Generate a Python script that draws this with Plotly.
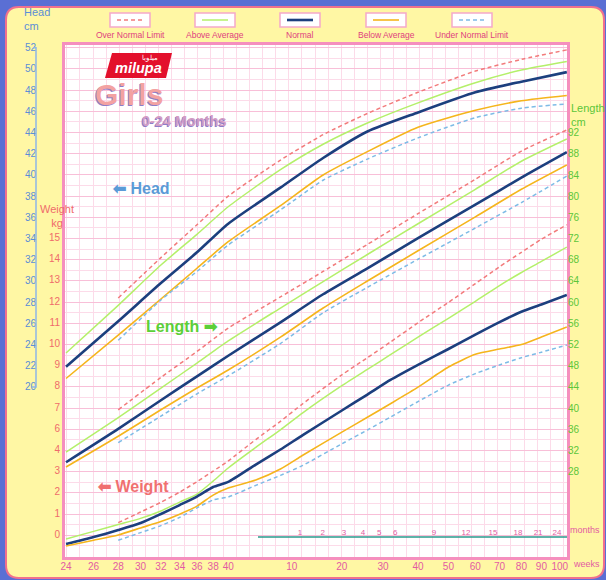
import math
import plotly.graph_objects as go

W, H = 606, 580

# ages are postmenstrual weeks (24-40 = gestation, then 40 + weeks after birth)
head_weeks = [24, 28, 32, 36, 40, 48, 56, 66, 80, 100, 120, 144]
head_over = [None, 28.4, 32.2, 35.3, 38.0, 41.4, 43.8, 45.8, 47.8, 49.8, 50.9, 51.8]
head_above = [23.2, 27.7, 31.5, 34.4, 37.0, 40.5, 42.9, 44.9, 46.8, 48.7, 49.9, 50.7]
head_normal = [21.9, 26.2, 29.8, 32.7, 35.4, 38.8, 41.6, 44.1, 45.9, 47.8, 48.8, 49.7]
head_below = [20.8, 24.9, 28.3, 31.2, 33.7, 37.1, 40.0, 42.2, 44.5, 46.1, 47.0, 47.5]
head_under = [None, 24.4, 28.2, 30.9, 33.4, 36.7, 39.5, 41.5, 43.5, 45.4, 46.3, 46.7]

length_weeks = [24, 28, 32, 36, 40, 48, 56, 66, 80, 100, 120, 144]
length_over = [None, 39.7, 45.8, 50.7, 55.1, 61.0, 65.8, 70.9, 76.7, 83.2, 88.5, 92.5]
length_above = [31.7, 38.2, 43.8, 48.5, 52.7, 58.9, 63.9, 69.0, 74.8, 81.3, 86.6, 90.8]
length_normal = [29.8, 36.1, 41.5, 46.0, 49.9, 56.2, 61.5, 66.4, 72.1, 78.4, 83.5, 88.3]
length_below = [28.9, 34.7, 39.7, 43.8, 47.2, 53.4, 58.9, 64.0, 69.7, 76.1, 81.3, 85.9]
length_under = [None, 33.5, 38.5, 42.7, 46.1, 52.2, 58.0, 62.8, 68.1, 74.0, 78.8, 83.8]

weight_weeks = [24, 26, 28, 30, 32, 34, 36, 38, 40, 44, 48, 52, 60, 66, 72, 80, 90, 100, 110, 120, 130, 144]
weight_over = [None, None, 1.55, 2.05, 2.51, 2.99, 3.48, 3.98, 4.46, 5.47, 6.33, 7.16, 8.52, 9.33,
               10.07, 10.98, 11.94, 12.82, 13.62, 14.30, 14.92, 15.6]
weight_above = [0.78, 1.14, 1.46, 1.75, 2.10, 2.52, 2.90, 3.51, 4.13, 5.10, 5.93, 6.73, 8.01, 8.78,
                9.47, 10.30, 11.19, 11.99, 12.73, 13.35, 13.87, 14.55]
weight_normal = [0.54, 0.87, 1.20, 1.53, 1.96, 2.38, 2.78, 3.23, 3.47, 4.29, 5.00, 5.68, 6.84, 7.59,
                 8.28, 8.99, 9.74, 10.42, 11.01, 11.50, 11.84, 12.29]
weight_below = [0.45, 0.72, 0.97, 1.30, 1.60, 1.95, 2.33, 2.85, 3.18, 3.56, 4.08, 4.73, 5.82, 6.52,
                7.16, 7.94, 8.89, 9.49, 9.74, 9.95, 10.31, 10.78]
weight_under = [None, None, 0.72, 1.08, 1.41, 1.80, 2.25, 2.62, 2.76, 3.31, 3.78, 4.25, 5.27, 5.92,
                6.53, 7.26, 8.04, 8.58, 8.99, 9.33, 9.59, 9.93]

week_ticks = [24, 26, 28, 30, 32, 34, 36, 38, 40, 50, 60, 70, 80, 90, 100, 110, 120, 130, 140]
week_labels = ["24", "26", "28", "30", "32", "34", "36", "38", "40",
               "10", "20", "30", "40", "50", "60", "70", "80", "90", "100"]
month_ticks = [51.5, 55.9, 60.5, 64.9, 69.0, 73.3, 85.1, 96.4, 107.2, 118.4, 128.3, 138.4]
month_labels = ["1", "2", "3", "4", "5", "6", "9", "12", "15", "18", "21", "24"]
head_ticks = list(range(20, 53, 2))
weight_ticks = [15, 14, 13, 12, 11, 10, 9, 8, 7, 6, 5, 4, 3, 2, 1]
weight_labels = ["15", "14", "13", "12", "11", "10", "9", "8", "7", "6", "4", "3", "2", "1", "0"]
length_ticks = list(range(28, 93, 4))

legend_names = ["Over Normal Limit", "Above Average", "Normal", "Below Average", "Under Normal Limit"]

AGE_SHIFT = 8  # the age axis is logarithmic in (weeks - 8)


def age_x(weeks):
    return [w - AGE_SHIFT for w in weeks]


def px(x):
    return x / W


def py(y):
    return 1 - y / H


styles = {
    "Over Normal Limit": dict(color="#f27b7b", width=1.5, dash="4px,3px"),
    "Above Average": dict(color="#b4f06a", width=1.5),
    "Normal": dict(color="#1c3f7e", width=2.6),
    "Below Average": dict(color="#f5b51c", width=1.6),
    "Under Normal Limit": dict(color="#7dbbe6", width=1.5, dash="4px,3px"),
}

fig = go.Figure()

sets = [
    (weight_weeks, [weight_over, weight_above, weight_normal, weight_below, weight_under], "y"),
    (head_weeks, [head_over, head_above, head_normal, head_below, head_under], "y2"),
    (length_weeks, [length_over, length_above, length_normal, length_below, length_under], "y3"),
]
for weeks, series, yax in sets:
    for name, vals in zip(legend_names, series):
        fig.add_trace(go.Scatter(
            x=age_x(weeks), y=vals, mode="lines", name=name, yaxis=yax,
            line=dict(shape="spline", smoothing=0.6, **styles[name]),
            hoverinfo="skip", showlegend=False))

# empty traces so the grid and month axes get drawn
fig.add_trace(go.Scatter(x=[], y=[], xaxis="x2", yaxis="y4", showlegend=False))
fig.add_trace(go.Scatter(x=[], y=[], xaxis="x3", yaxis="y", showlegend=False))

xdom = [px(65), px(567)]
ydom = [py(557), py(45)]
pink = "#f58fbe"
xr = [math.log10(15.93), math.log10(136.1)]

fig.update_layout(
    width=W, height=H, template="none",
    margin=dict(l=0, r=0, t=0, b=0),
    paper_bgcolor="#5a6fd4", plot_bgcolor="white",
    showlegend=False,
    font=dict(family="Liberation Sans, Arial, sans-serif", size=10),
    xaxis=dict(domain=xdom, type="log", range=xr, anchor="y",
               tickmode="array", tickvals=age_x(week_ticks), ticktext=week_labels,
               tickfont=dict(color="#e35ba2", size=10), ticks="", showgrid=False,
               ticklabelstandoff=-2,
               zeroline=False, showline=True, linecolor=pink, linewidth=3, mirror=True,
               automargin=False),
    xaxis2=dict(overlaying="x", range=[-0.145, 38.29], anchor="y", dtick=1,
                showgrid=True, gridcolor="#fcdbe9", gridwidth=1,
                showticklabels=False, ticks="", zeroline=False, showline=False, automargin=False),
    xaxis3=dict(overlaying="x", type="log", range=xr, anchor="free", position=py(537), side="top",
                tickmode="array", tickvals=age_x(month_ticks), ticktext=month_labels,
                tickfont=dict(color="#e35ba2", size=8), ticks="", showgrid=False,
                zeroline=False, showline=False, automargin=False),
    yaxis=dict(domain=ydom, range=[-0.07, 24.08], anchor="x",
               tickmode="array", tickvals=weight_ticks, ticktext=weight_labels,
               tickfont=dict(color="#ef6b6b", size=10), ticks="", showgrid=False,
               zeroline=False, showline=True, linecolor=pink, linewidth=3, mirror=True,
               automargin=False),
    yaxis2=dict(overlaying="y", range=[3.96, 52.26], anchor="free", position=px(36), side="left",
                tickmode="array", tickvals=head_ticks,
                tickfont=dict(color="#5b8ed6", size=10), ticks="", showgrid=False,
                zeroline=False, showline=False, automargin=False),
    yaxis3=dict(overlaying="y", range=[11.92, 108.53], anchor="x", side="right",
                tickmode="array", tickvals=length_ticks,
                tickfont=dict(color="#5cc63a", size=10), ticks="", showgrid=False,
                zeroline=False, showline=False, automargin=False),
    yaxis4=dict(overlaying="y", range=[3.96, 52.26], anchor="x2", dtick=2,
                showgrid=True, gridcolor="#f8bfd8", gridwidth=1.2,
                minor=dict(dtick=1, showgrid=True, gridcolor="#fcdbe9", gridwidth=1),
                showticklabels=False, ticks="", zeroline=False, showline=False, automargin=False),
)

# yellow card with rounded corners behind everything
x0, y0, x1, y1, r = 6, 7, 604, 578, 13


def P(x, y):
    return f"{px(x):.5f},{py(y):.5f}"


card = (f"M{P(x0 + r, y0)} L{P(x1 - r, y0)} Q{P(x1, y0)} {P(x1, y0 + r)} "
        f"L{P(x1, y1 - r)} Q{P(x1, y1)} {P(x1 - r, y1)} L{P(x0 + r, y1)} "
        f"Q{P(x0, y1)} {P(x0, y1 - r)} L{P(x0, y0 + r)} Q{P(x0, y0)} {P(x0 + r, y0)} Z")
shapes = [dict(type="path", xref="paper", yref="paper", path=card, fillcolor="#fff7a4",
               line=dict(color="#f0708e", width=2), layer="below"),
          # white chart paper inside the frame
          dict(type="rect", xref="x domain", yref="y domain", x0=0, x1=1, y0=0, y1=1,
               fillcolor="white", line=dict(width=0), layer="below")]

# legend boxes with sample lines
leg_cx = [130, 215, 300, 386, 472]
for cx, name in zip(leg_cx, legend_names):
    shapes.append(dict(type="rect", xref="paper", yref="paper",
                       x0=px(cx - 20), x1=px(cx + 20), y0=py(27), y1=py(13),
                       fillcolor="white", line=dict(color="#f5a9c9", width=1.5)))
    st = styles[name]
    shapes.append(dict(type="line", xref="paper", yref="paper",
                       x0=px(cx - 13), x1=px(cx + 13), y0=py(20), y1=py(20),
                       line=dict(color=st["color"], width=st["width"], dash=st.get("dash", "solid"))))

# milupa logo block
shapes.append(dict(type="path", xref="paper", yref="paper",
                   path=f"M{P(112, 53)} L{P(172, 53)} L{P(166, 78)} L{P(105, 78)} Z",
                   fillcolor="#e3102c", line=dict(width=0)))

# birth line at 40 weeks
shapes.append(dict(type="line", xref="x", yref="paper",
                   x0=math.log10(40 - AGE_SHIFT), x1=math.log10(40 - AGE_SHIFT),
                   y0=py(555), y1=py(195), line=dict(color="#a6df78", width=2), layer="below"))

# months baseline
shapes.append(dict(type="line", xref="paper", yref="paper", x0=px(258), x1=px(567),
                   y0=py(537), y1=py(537), line=dict(color="#2a9a8c", width=1.5)))

# head scale bracket
shapes.append(dict(type="path", xref="paper", yref="y2",
                   path=f"M{px(33):.5f},52 L{px(36):.5f},52 L{px(36):.5f},20 L{px(32):.5f},20",
                   line=dict(color="#8fb6e6", width=1.5)))

fig.update_layout(shapes=shapes)

narrow = "Liberation Sans Narrow, Liberation Sans, sans-serif"
ann = []
for cx, name in zip(leg_cx, legend_names):
    ann.append(dict(x=px(cx), y=py(35), text=name, font=dict(family=narrow, size=8.5, color="#e03e80")))

ann += [
    dict(x=px(22), y=py(19), text="Head<br>cm", xanchor="left", align="left",
         font=dict(size=11, color="#5b8ed6")),
    dict(x=px(57), y=py(216), text="Weight<br>kg", align="center",
         font=dict(family=narrow, size=11, color="#ef6b6b")),
    dict(x=px(569), y=py(115), text="Length<br>cm", xanchor="left", align="left",
         font=dict(family=narrow, size=11, color="#5cc63a")),
    dict(x=px(568), y=py(530), text="months", xanchor="left", font=dict(family=narrow, size=9, color="#e35ba2")),
    dict(x=px(571), y=py(564), text="weeks", xanchor="left", font=dict(family=narrow, size=9, color="#e35ba2")),
    dict(x=px(150), y=py(58), text="ميلوبا", font=dict(size=7, color="white")),
    dict(x=px(138), y=py(68), text="<b><i>milupa</i></b>", font=dict(size=14.5, color="white")),
    dict(x=px(129), y=py(95), text="<b>Girls</b>",
         font=dict(size=30, color="#f3a2a2", shadow="-1px 1px 0px #8e7dc8")),
    dict(x=px(184), y=py(121), text="<b>0-24 Months</b>",
         font=dict(size=14.5, color="#d39cc4", shadow="-1px 1px 0px #8e7dc8")),
    dict(x=px(141), y=py(188), text="<b>⬅ Head</b>", font=dict(family=narrow, size=16, color="#5b9bd7")),
    dict(x=px(182), y=py(326), text="<b>Length ➡</b>", font=dict(family=narrow, size=16, color="#5ccf38")),
    dict(x=px(133), y=py(486), text="<b>⬅ Weight</b>", font=dict(family=narrow, size=16, color="#f07070")),
]
for a in ann:
    a.setdefault("xref", "paper")
    a.setdefault("yref", "paper")
    a.setdefault("xanchor", "center")
    a.setdefault("yanchor", "middle")
    a.setdefault("showarrow", False)
fig.update_layout(annotations=ann)

# page body margin would push the 606x580 figure out of the window
fig.write_html("out.html", config={"displayModeBar": False},
               post_script="document.body.style.margin='0px';")
